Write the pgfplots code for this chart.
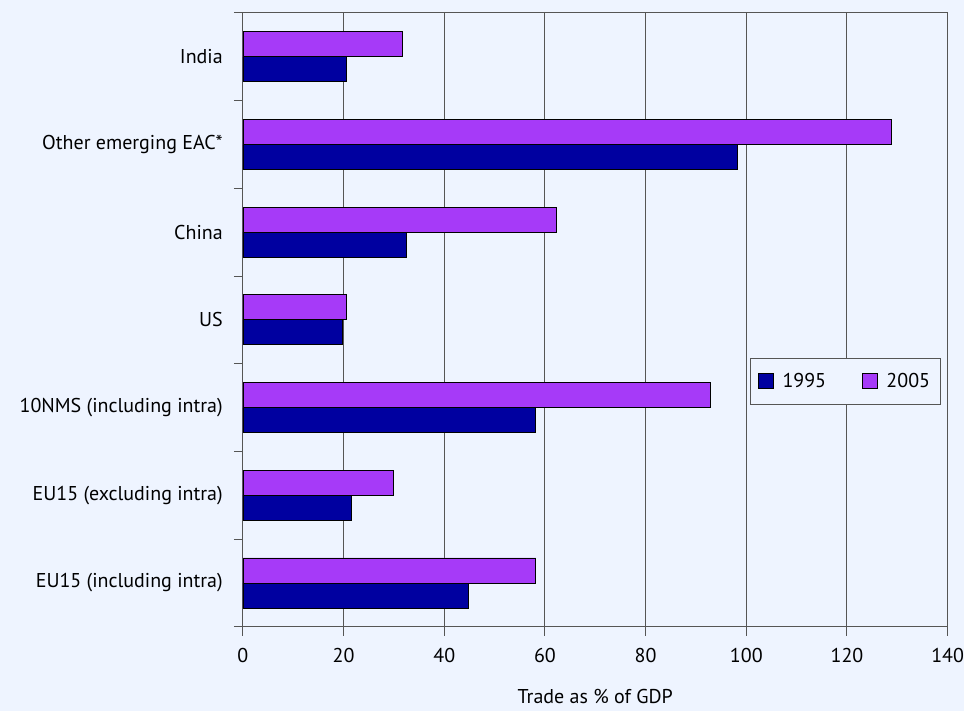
\documentclass[border=0pt]{standalone}
\usepackage{pgfplots}
\pgfplotsset{compat=1.18}
\usepackage{fontspec}
\setmainfont{PT Sans}
\definecolor{bg}{HTML}{EEF4FF}
\definecolor{navy}{HTML}{0000A0}
\definecolor{purp}{HTML}{A63AF8}
\definecolor{gridc}{HTML}{555555}
\begin{document}
\begin{tikzpicture}
\fill[bg] (0pt,0pt) rectangle (964pt,711pt);
\begin{axis}[
  at={(243pt,84pt)}, anchor=south west,
  width=705pt, height=614pt, scale only axis,
  xbar, bar width=25pt,
  xmin=0, xmax=140, xtick={0,20,...,140},
  ymin=-0.5, ymax=6.5,
  ytick={-0.5,0.5,...,6.5},
  yticklabels={},
  extra y ticks={0,...,6},
  extra y tick labels={EU15 (including intra), EU15 (excluding intra), 10NMS (including intra), US, China, Other emerging EAC*, India},
  extra y tick style={major tick length=0pt},
  xtick pos=bottom, ytick pos=left,
  tick style={draw=gridc, line width=1pt},
  tick align=outside, major tick length=9pt,
  xmajorgrids, grid style={gridc, line width=1pt},
  axis line style={gridc, line width=1pt},
  /pgf/number format/assume math mode=true,
  tick label style={font=\fontsize{20}{24}\selectfont},
  yticklabel style={inner sep=0pt, xshift=-20pt},
  xticklabel style={inner sep=0pt, yshift=-12pt},
  xlabel={Trade as \% of GDP},
  xlabel style={font=\fontsize{20}{24}\selectfont, inner sep=0pt, yshift=-27pt},
  legend style={at={(rel axis cs:0.719,0.438)}, anchor=north west, draw=gridc, line width=1pt, fill=bg,
    font=\fontsize{20}{24}\selectfont, inner xsep=8pt, inner ysep=13pt,
    /tikz/every even column/.append style={column sep=34pt}},
  legend columns=2,
  legend image code/.code={\draw[#1, line width=0.8pt] (0pt,-7pt) rectangle (15pt,8pt); \path[draw=none, fill=none] (0pt,0pt) -- (22pt,0pt);},
]
\addplot[fill=navy, draw=black, line width=0.8pt, bar shift=-12.5pt] coordinates {
  (44.8,0) (21.6,1) (58.2,2) (19.8,3) (32.5,4) (98.3,5) (20.6,6)};
\addplot[fill=purp, draw=black, line width=0.8pt, bar shift=12.5pt] coordinates {
  (58.2,0) (29.8,1) (92.8,2) (20.6,3) (62.2,4) (128.9,5) (31.6,6)};
\legend{1995,2005}
\end{axis}
\end{tikzpicture}
\end{document}
